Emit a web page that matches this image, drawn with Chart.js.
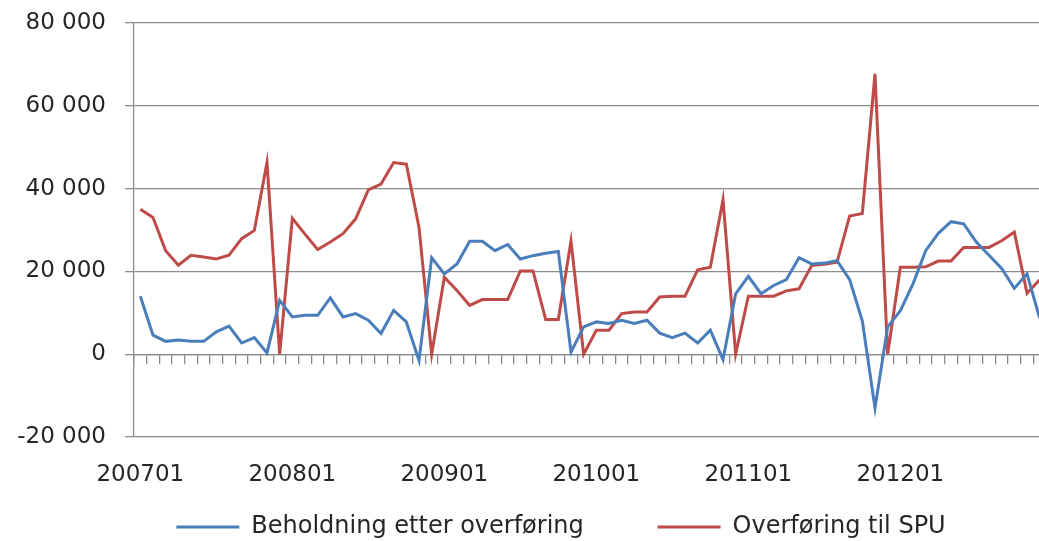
<!DOCTYPE html>
<html>
<head>
<meta charset="utf-8">
<script src="https://cdn.jsdelivr.net/npm/chart.js@4"></script>
<style>
  html, body { margin: 0; padding: 0; background: #fff; overflow: hidden; }
  canvas { display: block; }
</style>
</head>
<body>
<!-- the plot runs past the right edge of the picture, so the canvas is wider than the window -->
<canvas id="chart" width="1122" height="541" style="width:1122px;height:541px"></canvas>
<script>
const months = [
  '200701','200702','200703','200704','200705','200706','200707','200708','200709','200710','200711','200712',
  '200801','200802','200803','200804','200805','200806','200807','200808','200809','200810','200811','200812',
  '200901','200902','200903','200904','200905','200906','200907','200908','200909','200910','200911','200912',
  '201001','201002','201003','201004','201005','201006','201007','201008','201009','201010','201011','201012',
  '201101','201102','201103','201104','201105','201106','201107','201108','201109','201110','201111','201112',
  '201201','201202','201203','201204','201205','201206','201207','201208','201209','201210','201211','201212'
];

// Beholdning etter overføring
const holding = [
  14000, 4600, 3100, 3400, 3100, 3100, 5400, 6800, 2700, 4000, 300, 13000,
  9000, 9400, 9400, 13600, 9000, 9800, 8200, 5000, 10600, 7800, -1500, 23300,
  19400, 21800, 27300, 27300, 25000, 26500, 23000, 23800, 24400, 24800, 500, 6600,
  7800, 7400, 8200, 7400, 8200, 5100, 4000, 5100, 2700, 5800, -1300, 14600,
  18800, 14600, 16600, 18000, 23300, 21800, 22000, 22600, 18000, 8000, -13000, 6600,
  10500, 17000, 25000, 29200, 32000, 31500, 27100, 23900, 20700, 15900, 19400, 8700
];

// Overføring til SPU
const transfer = [
  35000, 33000, 25000, 21500, 23900, 23500, 23000, 23900, 27900, 29900, 46300, 0,
  32800, 29000, 25300, 27100, 29100, 32700, 39700, 41100, 46300, 45900, 30700, 0,
  18600, 15400, 11800, 13200, 13200, 13200, 20100, 20100, 8400, 8400, 27300, 0,
  5800, 5800, 9800, 10200, 10200, 13800, 14000, 14000, 20400, 21000, 37300, 0,
  14000, 14000, 14000, 15300, 15800, 21400, 21700, 22200, 33400, 34000, 67700, 0,
  21000, 21000, 21100, 22500, 22500, 25800, 25800, 25800, 27400, 29500, 14700, 18000
];

const yTicks = [-20000, 0, 20000, 40000, 60000, 80000];

const gridColor = '#8c8c8c';
const textColor = '#262626';

function spaced(v) {
    const s = String(Math.abs(v)).replace(/\B(?=(\d{3})+(?!\d))/g, ' ');
    return v < 0 ? '-' + s : s;
}

Chart.defaults.font.family = "'DejaVu Sans', sans-serif";
Chart.defaults.color = textColor;

const ctx = document.getElementById('chart').getContext('2d');
new Chart(ctx, {
    type: 'line',
    data: {
        labels: months,
        datasets: [
            {
                label: 'Beholdning etter overføring',
                data: holding,
                borderColor: '#4A7EBB',
                backgroundColor: '#4A7EBB',
                borderWidth: 3,
                pointRadius: 0,
                tension: 0,
                xAxisID: 'x',
                yAxisID: 'y'
            },
            {
                label: 'Overføring til SPU',
                data: transfer,
                borderColor: '#BE4B48',
                backgroundColor: '#BE4B48',
                borderWidth: 3,
                pointRadius: 0,
                tension: 0,
                xAxisID: 'x',
                yAxisID: 'y'
            }
        ]
    },
    options: {
        responsive: false,
        devicePixelRatio: 1,
        animation: false,
        layout: { padding: { left: 0, right: 0, top: 23, bottom: 0 } },
        plugins: {
            tooltip: { enabled: false },
            legend: {
                position: 'bottom',
                maxHeight: 54,
                labels: {
                    usePointStyle: true,
                    pointStyle: 'line',
                    pointStyleWidth: 63,
                    padding: 28,
                    color: textColor,
                    font: { size: 24 },
                    // wider gap after the first item
                    generateLabels: function (chart) {
                        const items = Chart.defaults.plugins.legend.labels.generateLabels(chart);
                        items[0].text += '      ';
                        return items;
                    }
                }
            }
        },
        scales: {
            // axis line with tick marks along the zero line
            x: {
                type: 'category',
                position: { y: 0 },
                offset: true,
                grid: {
                    offset: true,
                    drawOnChartArea: false,
                    drawTicks: true,
                    tickLength: 9,
                    color: gridColor,
                    lineWidth: 1.3
                },
                border: { display: true, color: gridColor, width: 1.3 },
                ticks: { display: false, autoSkip: false },
                afterFit: function (scale) { scale.height = 0; }
            },
            // year labels at the bottom
            x2: {
                type: 'category',
                position: 'bottom',
                offset: true,
                grid: { display: false, drawTicks: false },
                border: { display: false },
                ticks: {
                    autoSkip: false,
                    maxRotation: 0,
                    padding: 24,
                    color: textColor,
                    font: { size: 23 },
                    callback: function (val, i) {
                        const m = months[i];
                        return m.endsWith('01') ? m : '';
                    }
                },
                afterFit: function (scale) { scale.height = 50; }
            },
            y: {
                position: 'left',
                min: -20000,
                max: 80000,
                afterBuildTicks: function (scale) {
                    scale.ticks = yTicks.map(v => ({ value: v }));
                },
                afterFit: function (scale) {
                    scale.width = 134;
                    scale.paddingTop = 0;
                    scale.paddingBottom = 0;
                },
                grid: {
                    color: gridColor,
                    lineWidth: 1.3,
                    drawTicks: true,
                    tickLength: 9
                },
                border: { display: true, color: gridColor, width: 1.3 },
                ticks: {
                    padding: 19,
                    color: textColor,
                    font: { size: 23 },
                    callback: v => spaced(v)
                }
            },
            // empty right margin, keeps the legend centred where the source has it
            yRight: {
                type: 'linear',
                axis: 'y',
                position: 'right',
                grid: { display: false, drawTicks: false },
                border: { display: false },
                ticks: { display: false },
                afterFit: function (scale) { scale.width = 76; }
            }
        }
    }
});
</script>
</body>
</html>
